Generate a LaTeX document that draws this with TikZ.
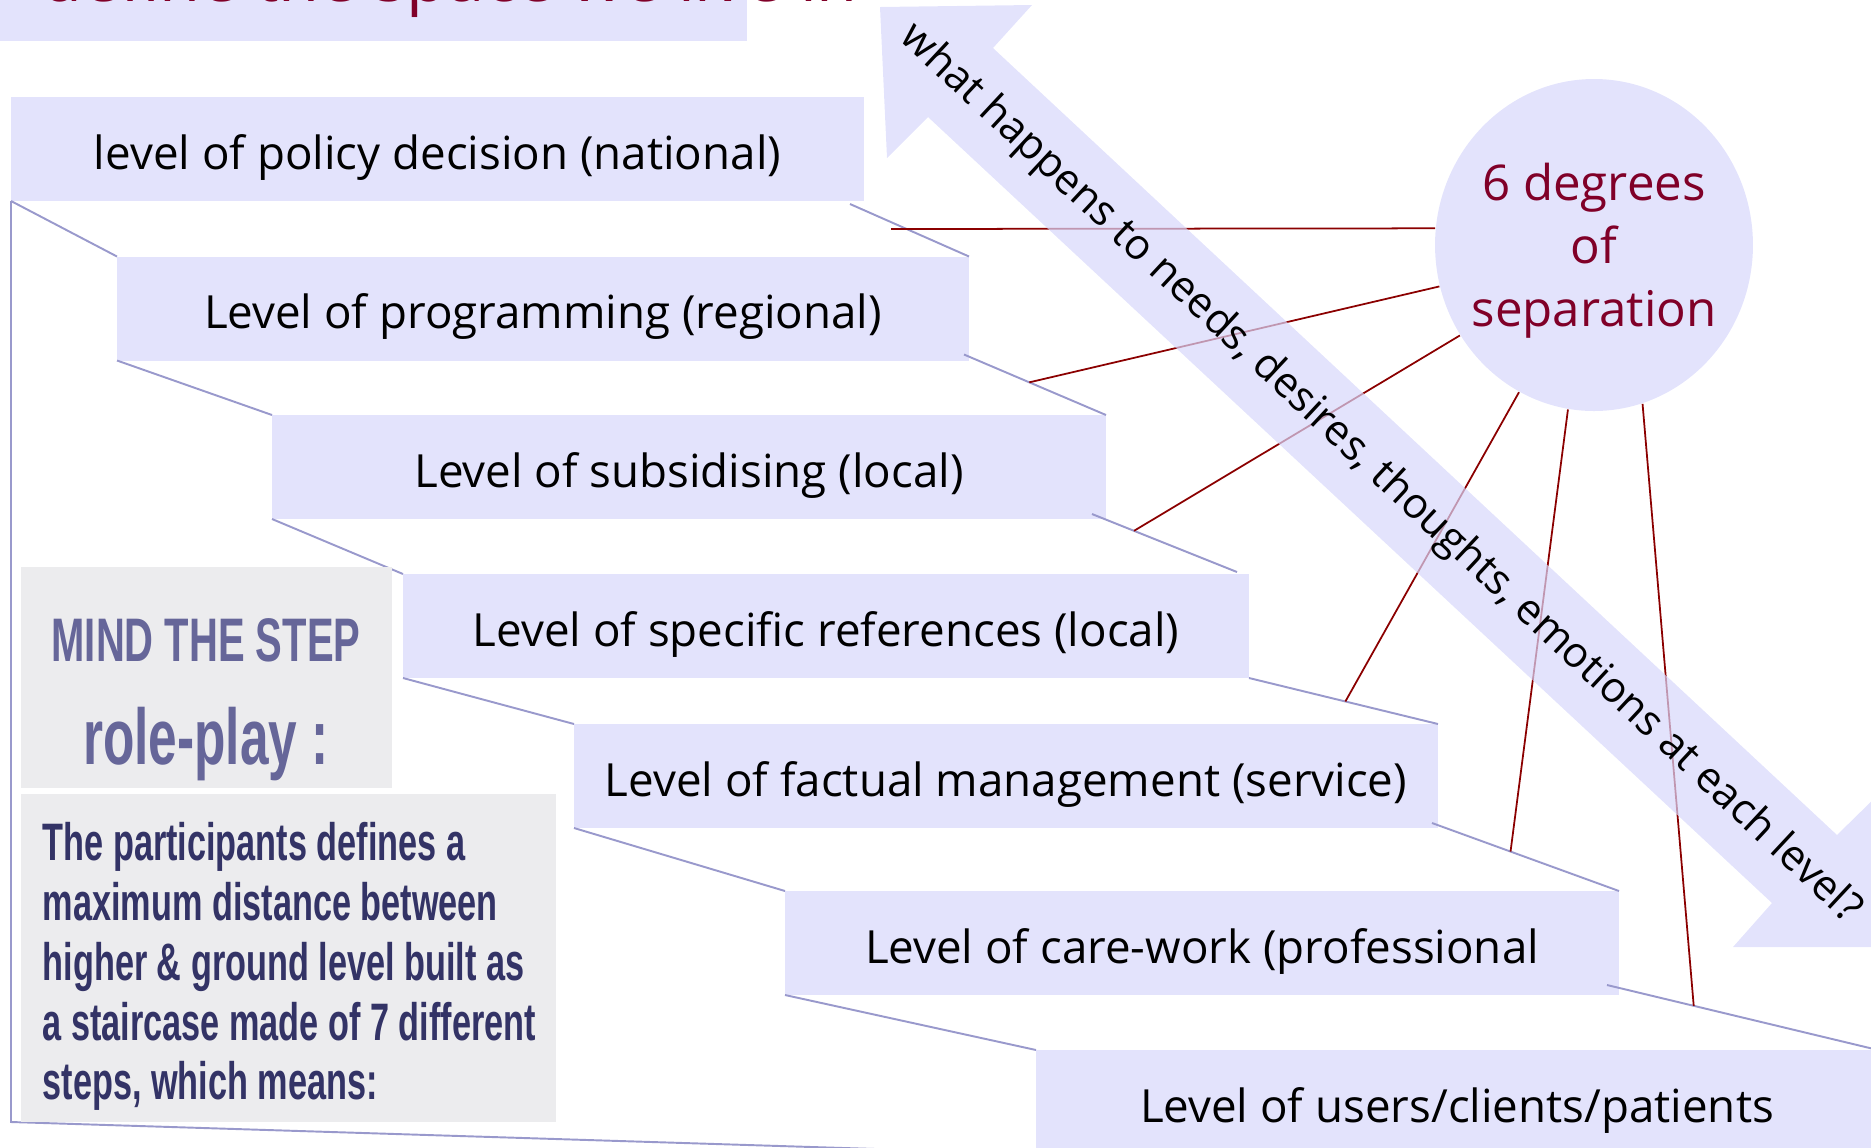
\documentclass[tikz,border=0pt]{standalone}
\usepackage{fontspec}
\setmainfont{Open Sans}
\newfontfamily\stencil[FakeStretch=0.65]{Liberation Sans}
\usetikzlibrary{calc,shapes.geometric}

\definecolor{lav}{RGB}{227,227,252}
\definecolor{lavtint}{RGB}{215,215,251}
\definecolor{stair}{RGB}{153,153,204}
\definecolor{wine}{RGB}{128,0,40}
\definecolor{rope}{RGB}{139,0,0}
\definecolor{slate}{RGB}{102,102,153}
\definecolor{ink}{RGB}{51,51,102}
\definecolor{paper}{RGB}{236,236,238}

\begin{document}
\begin{tikzpicture}[x=0.1mm,y=-0.1mm,
  lvl/.style={fill=lav,inner sep=0pt,outer sep=0pt,minimum height=10.4mm,
    text height=14pt,text depth=2.5pt,font=\fontsize{13}{15}\selectfont},
  a/.style={stair,line width=0.55pt},
  b/.style={rope,line width=0.5pt}]
\useasboundingbox (0,0) rectangle (1871,1147);
% heading strip, cut off at the top
\fill[lav] (0,0) rectangle (747,41);
\node[text=wine,anchor=base west,inner sep=0pt,font=\fontsize{19}{22}\selectfont] (head) at (41,1) {define the space we live in};

% the seven steps
\node[lvl,minimum width=85.3mm] (s1) at (437.5,149) {level of policy decision (national)};
\node[lvl,minimum width=85.2mm] (s2) at (543,308.5) {Level of programming (regional)};
\node[lvl,minimum width=83.4mm] (s3) at (689,467) {Level of subsidising (local)};
\node[lvl,minimum width=84.6mm] (s4) at (826,626) {Level of specific references (local)};
\node[lvl,minimum width=86.4mm] (s5) at (1006,776) {Level of factual management (service)};
\node[lvl,minimum width=83.4mm] (s6) at (1202,943) {Level of care-work (professional};
\node[lvl,minimum width=84.2mm] (s7) at (1457,1102) {Level of users/clients/patients};

% stair lines, left
\draw[a] (s1.south west) -- (s2.north west);
\draw[a] (s2.south west) -- (s3.north west);
\draw[a] (s3.south west) -- (s4.north west);
\draw[a] (s4.south west) -- (s5.north west);
\draw[a] (s5.south west) -- (s6.north west);
\draw[a] (s6.south west) -- (s7.north west);
\coordinate (floor) at (11,1122);
\draw[a] (s1.south west) -- (floor) -- (s7.south west);
% stair lines, right
\draw[a] ($(s1.south east)+(-14,3)$) -- (s2.north east);
\draw[a] ($(s2.south east)+(-5,-6)$) -- coordinate[pos=0.46] (p2) (s3.north east);
\draw[a] ($(s3.south east)+(-14,-5)$) -- coordinate[pos=0.29] (p3) ($(s4.north east)+(-12,-2)$);
\draw[a] (s4.south east) -- coordinate[pos=0.51] (p4) (s5.north east);
\draw[a] ($(s5.south east)+(-6,-5)$) -- coordinate[pos=0.42] (p5) (s6.north east);
\draw[a] ($(s6.south east)+(-12,-10)$) -- coordinate[pos=0.32] (p6) (s7.north east);

% 6 degrees
\node[ellipse,fill=lav,inner xsep=-1mm,inner ysep=0pt,minimum width=31.6mm,minimum height=33.2mm,
  text=wine,align=center,text depth=0pt,font=\fontsize{14}{18}\selectfont] (sep) at (1594,245) {6 degrees\\of\\separation};
\coordinate (c1) at (891,229);
\draw[b] (c1) -- (sep.174);
\draw[b] (p2) -- (sep.195);
\draw[b] (p3) -- (sep.214);
\draw[b] (p4) -- (sep.243);
\draw[b] (p5) -- (sep.261);
\draw[b] (p6) -- (sep.287);

% double arrow
\fill[lavtint,fill opacity=0.7] (880,7) -- (1032,5) -- (993,48) -- (1837,835) -- (1888,785)
  -- (1888,947) -- (1733,947) -- (1772,903) -- (928,117) -- (887,158) -- cycle;
\node[rotate=-43,font=\fontsize{12}{14}\selectfont] (ask) at (1380,474) {what happens to needs, desires, thoughts, emotions at each level?};

% role-play notes
\fill[paper] (21,567) rectangle (392,788);
\fill[paper] (21,794) rectangle (556,1122);
\node[text=slate,anchor=base,font=\stencil\bfseries\fontsize{17.5}{20}\selectfont] (mind) at (206,661) {MIND THE STEP};
\node[text=slate,anchor=base,font=\stencil\bfseries\fontsize{22.5}{26}\selectfont] (role) at (206,764) {role-play :};
\node[text=ink,anchor=north west,inner sep=0pt,align=left,font=\stencil\bfseries\fontsize{15}{17}\selectfont] (rules) at (42,822)
  {The participants defines a\\maximum distance between\\higher \& ground level built as\\a staircase made of 7 different\\steps, which means:};
\end{tikzpicture}
\end{document}
